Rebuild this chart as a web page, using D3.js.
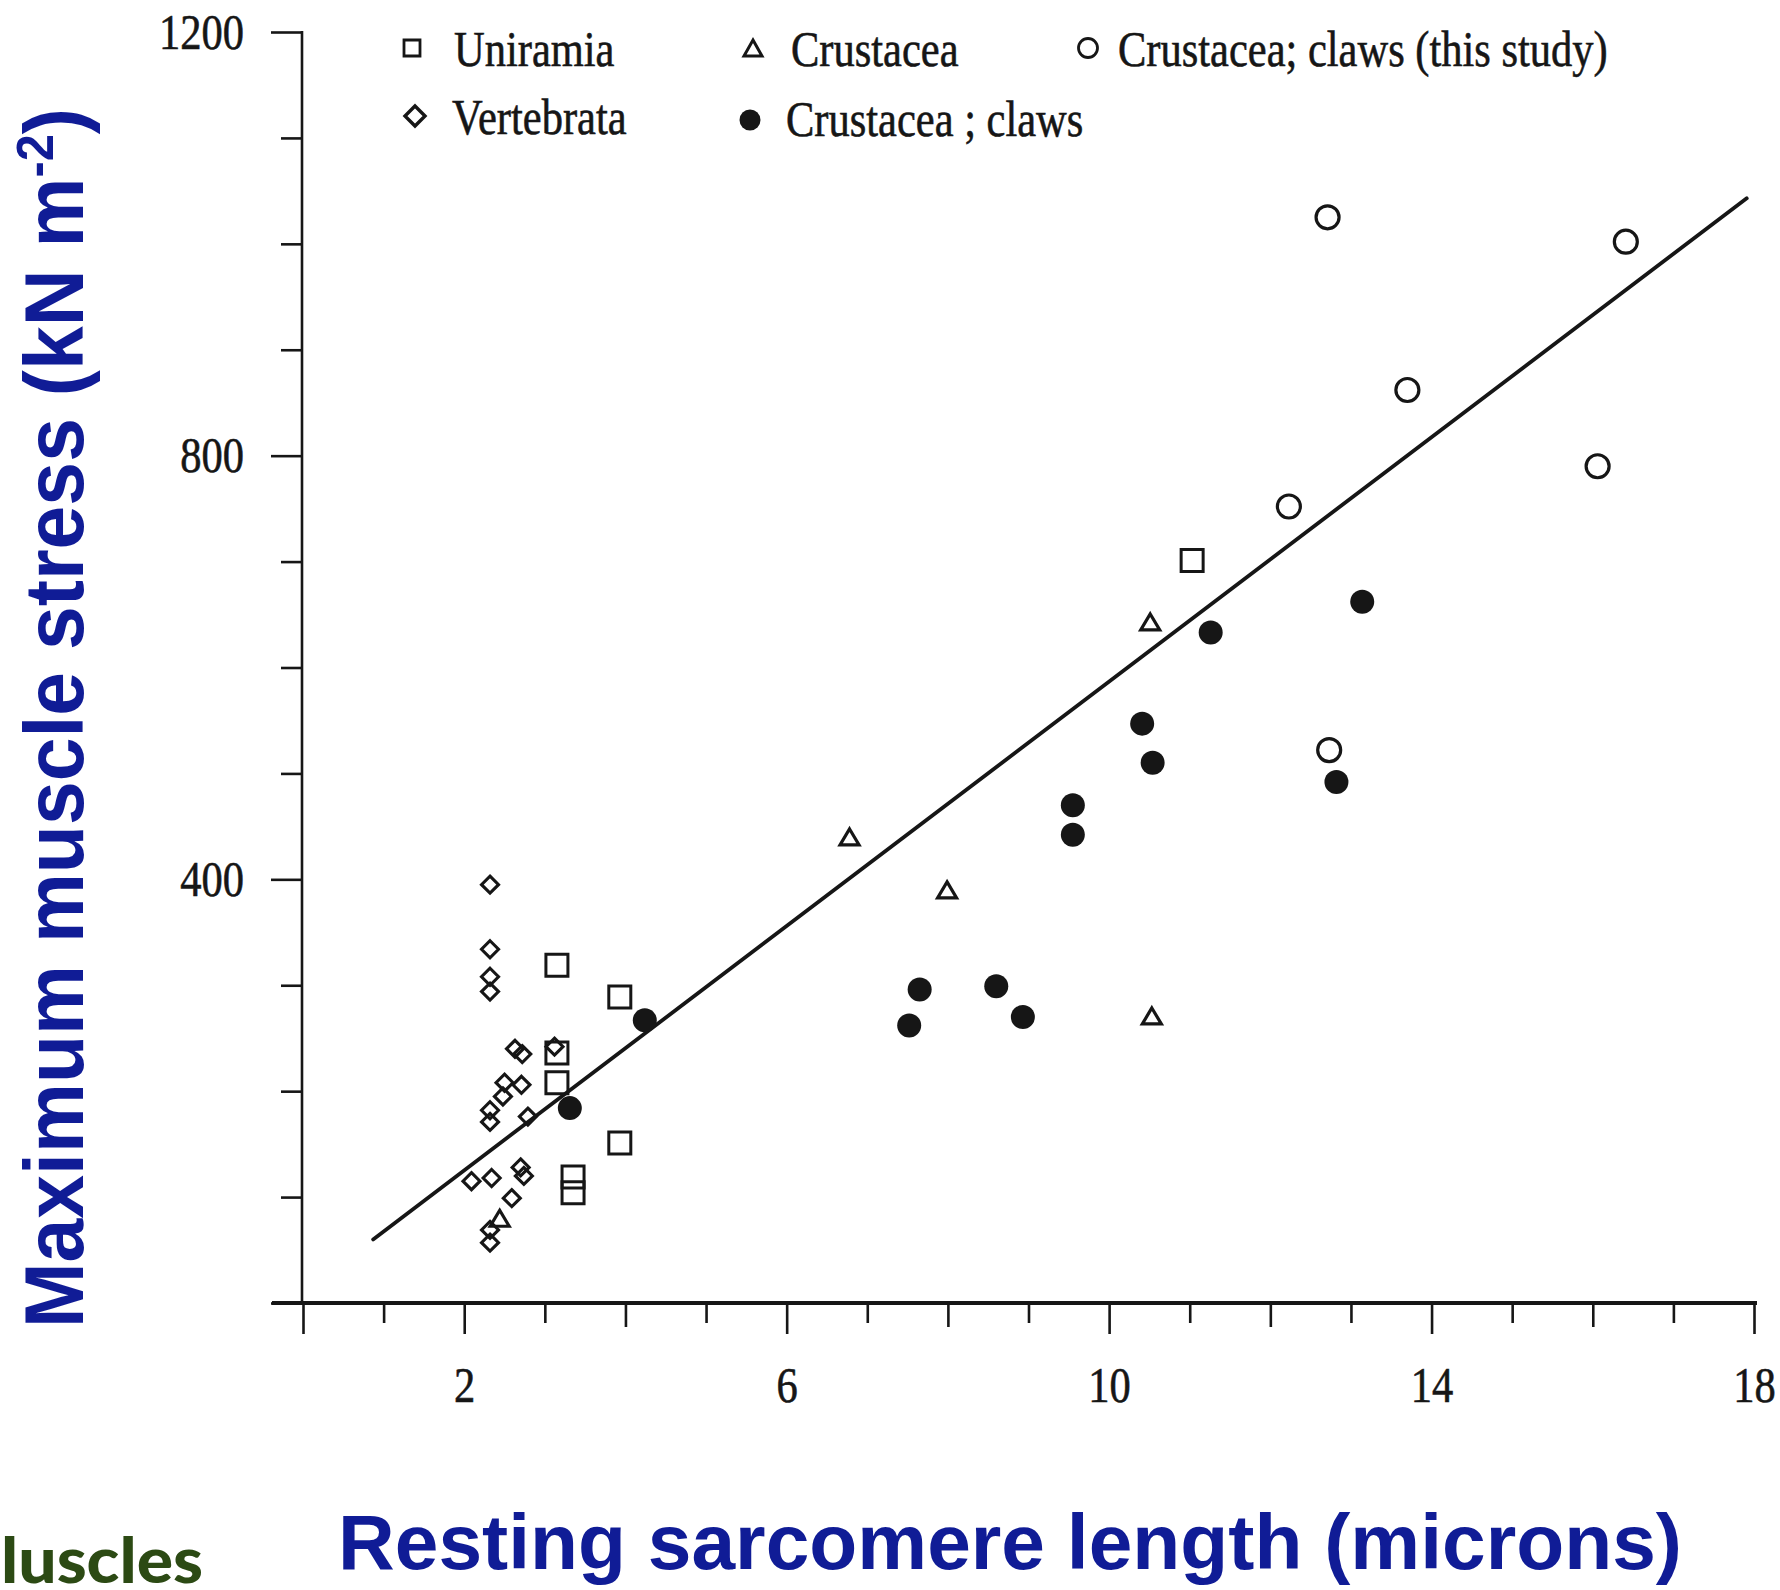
<!DOCTYPE html>
<html>
<head>
<meta charset="utf-8">
<script src="https://cdn.jsdelivr.net/npm/d3@7"></script>
<style>
  html, body { margin: 0; padding: 0; background: #fff; }
  svg { display: block; }
</style>
</head>
<body>
<svg id="chart" width="1780" height="1590"></svg>
<script>
// Resting sarcomere length vs maximum muscle stress
const uniramiaX = [3.15, 3.93, 3.15, 3.15, 3.93, 3.35, 3.35, 11.03];
const uniramiaY = [319, 289, 236, 208, 151, 119, 104, 701];

const vertebrataX = [2.32, 2.32, 2.32, 2.32, 2.63, 2.72, 3.12, 2.50, 2.71, 2.48, 2.32, 2.32, 2.79, 2.09, 2.34, 2.70, 2.74, 2.59, 2.32, 2.32];
const vertebrataY = [395, 334, 308, 294, 240, 235, 242, 208, 206, 195, 182, 171, 176, 115, 118, 128, 120, 99, 69, 57];

const crustaceaX = [2.44, 6.78, 7.99, 10.51, 10.53];
const crustaceaY = [80, 440, 390, 643, 271];

const clawsX = [3.31, 4.24, 7.52, 7.65, 8.60, 8.93, 9.55, 9.55, 10.41, 10.54, 11.26, 12.82, 13.14];
const clawsY = [184, 267, 262, 296, 299, 270, 470, 442, 547, 510, 633, 492, 662];

const studyX = [12.23, 12.71, 12.73, 13.70, 16.06, 16.41];
const studyY = [752, 1025, 522, 862, 790, 1002];

const fitX = [0.87, 17.91];
const fitY = [60, 1043];

const xTickValues = [0, 1, 2, 3, 4, 5, 6, 7, 8, 9, 10, 11, 12, 13, 14, 15, 16, 17, 18];
const xTickLabels = [2, 6, 10, 14, 18];
const xMidTicks = [4, 8, 12, 16];
const yTickValues = [0, 100, 200, 300, 400, 500, 600, 700, 800, 900, 1000, 1100, 1200];
const yTickLabels = [400, 800, 1200];

const legendNames = ["Uniramia", "Crustacea", "Crustacea; claws (this study)", "Vertebrata", "Crustacea ; claws"];

const ink = "#161616";
const serif = "'Liberation Serif', 'Times New Roman', serif";
const titleBlue = "#101c96";

const svg = d3.select('#chart');

const x = d3.scaleLinear().domain([0, 18]).range([303, 1754]);
const y = d3.scaleLinear().domain([0, 1200]).range([1303, 32]);

// marker shapes
const squarePath = s => `M${-s / 2},${-s / 2}h${s}v${s}h${-s}Z`;
const diamondPath = (w, h) => `M0,${-h / 2}L${w / 2},0L0,${h / 2}L${-w / 2},0Z`;
const trianglePath = (w, h) => `M0,${-h / 2}L${w / 2},${h / 2}L${-w / 2},${h / 2}Z`;

// serif text looks a bit heavy in the scan
function serifStyle(sel) {
    sel.attr("font-family", serif)
        .attr("font-size", 50)
        .attr("fill", ink)
        .attr("stroke", ink)
        .attr("stroke-width", 0.6);
}

// ---- axes ----
const xAxis = d3.axisBottom(x)
    .tickValues(xTickValues)
    .tickSizeOuter(0)
    .tickFormat(d => xTickLabels.includes(d) ? d : "");

const xg = svg.append("g")
    .attr("transform", `translate(0,${y(0)})`)
    .call(xAxis);
xg.select(".domain").remove();
xg.selectAll(".tick line")
    .attr("stroke", ink)
    .attr("stroke-width", 2.6)
    .attr("y2", d => (d === 0 || xTickLabels.includes(d)) ? 31 : (xMidTicks.includes(d) ? 24 : 20));
xg.selectAll(".tick text")
    .attr("y", 0).attr("dy", 0)
    .attr("transform", "translate(0,99) scale(0.85,1)")
    .call(serifStyle);

const yAxis = d3.axisLeft(y)
    .tickValues(yTickValues)
    .tickSizeOuter(0)
    .tickFormat(d => yTickLabels.includes(d) ? d : "");

const yg = svg.append("g")
    .attr("transform", `translate(${x(0) - 1},0)`)
    .call(yAxis);
yg.select(".domain").remove();
yg.selectAll(".tick line")
    .attr("stroke", ink)
    .attr("stroke-width", 2.6)
    .attr("x2", d => (d === 0 || yTickLabels.includes(d)) ? -31 : -21);
yg.selectAll(".tick text")
    .attr("x", 0).attr("dy", "0.32em")
    .attr("transform", "translate(-58,0) scale(0.85,1)")
    .call(serifStyle);

// axis lines
svg.append("line")
    .attr("x1", x(0) - 31).attr("x2", x(18) + 3)
    .attr("y1", y(0)).attr("y2", y(0))
    .attr("stroke", ink).attr("stroke-width", 3.8);
svg.append("line")
    .attr("x1", x(0) - 1).attr("x2", x(0) - 1)
    .attr("y1", y(1200) - 1).attr("y2", y(0))
    .attr("stroke", ink).attr("stroke-width", 2.6);

// ---- fitted line ----
svg.append("line")
    .attr("x1", x(fitX[0])).attr("y1", y(fitY[0]))
    .attr("x2", x(fitX[1])).attr("y2", y(fitY[1]))
    .attr("stroke", ink)
    .attr("stroke-width", 3.8)
    .attr("stroke-linecap", "round");

// ---- points ----
const pts = (xs, ys) => xs.map((v, i) => ({ x: v, y: ys[i] }));
const markers = svg.append("g").attr("class", "markers");

markers.selectAll(".vert")
    .data(pts(vertebrataX, vertebrataY))
    .enter().append("path")
    .attr("class", "vert")
    .attr("d", diamondPath(17, 17))
    .attr("transform", d => `translate(${x(d.x)},${y(d.y)})`)
    .attr("fill", "none")
    .attr("stroke", ink).attr("stroke-width", 3.1);

markers.selectAll(".uni")
    .data(pts(uniramiaX, uniramiaY))
    .enter().append("path")
    .attr("class", "uni")
    .attr("d", squarePath(22))
    .attr("transform", d => `translate(${x(d.x)},${y(d.y)})`)
    .attr("fill", "none")
    .attr("stroke", ink).attr("stroke-width", 3);

markers.selectAll(".crus")
    .data(pts(crustaceaX, crustaceaY))
    .enter().append("path")
    .attr("class", "crus")
    .attr("d", trianglePath(19, 16))
    .attr("transform", d => `translate(${x(d.x)},${y(d.y)})`)
    .attr("fill", "none")
    .attr("stroke", ink).attr("stroke-width", 3.2);

markers.selectAll(".claw")
    .data(pts(clawsX, clawsY))
    .enter().append("circle")
    .attr("class", "claw")
    .attr("cx", d => x(d.x)).attr("cy", d => y(d.y))
    .attr("r", 12)
    .attr("fill", ink);

markers.selectAll(".study")
    .data(pts(studyX, studyY))
    .enter().append("circle")
    .attr("class", "study")
    .attr("cx", d => x(d.x)).attr("cy", d => y(d.y))
    .attr("r", 11.5)
    .attr("fill", "none")
    .attr("stroke", ink).attr("stroke-width", 3.2);

// ---- legend ----
const legend = svg.append("g").attr("class", "legend");
const legendItems = [
    { name: legendNames[0], mx: 412, my: 48, tx: 454, ty: 66, kind: "square" },
    { name: legendNames[1], mx: 753, my: 48, tx: 791, ty: 66, kind: "triangle" },
    { name: legendNames[2], mx: 1088, my: 48, tx: 1118, ty: 66, kind: "open" },
    { name: legendNames[3], mx: 415, my: 116, tx: 452, ty: 134, kind: "diamond" },
    { name: legendNames[4], mx: 750, my: 120, tx: 786, ty: 136, kind: "filled" }
];
legendItems.forEach(it => {
    const g = legend.append("g").attr("transform", `translate(${it.mx},${it.my})`);
    if (it.kind === "square") {
        g.append("path").attr("d", squarePath(16)).attr("fill", "none").attr("stroke", ink).attr("stroke-width", 2.8);
    } else if (it.kind === "triangle") {
        g.append("path").attr("d", trianglePath(18, 16)).attr("fill", "none").attr("stroke", ink).attr("stroke-width", 3);
    } else if (it.kind === "open") {
        g.append("circle").attr("r", 9.5).attr("fill", "none").attr("stroke", ink).attr("stroke-width", 2.8);
    } else if (it.kind === "diamond") {
        g.append("path").attr("d", diamondPath(20, 20)).attr("fill", "none").attr("stroke", ink).attr("stroke-width", 3.4);
    } else {
        g.append("circle").attr("r", 10.5).attr("fill", ink);
    }
    legend.append("text")
        .attr("transform", `translate(${it.tx},${it.ty}) scale(0.85,1)`)
        .call(serifStyle)
        .text(it.name);
});

// ---- titles ----
svg.append("text")
    .attr("x", 1010).attr("y", 1569)
    .attr("text-anchor", "middle")
    .attr("font-family", "'Liberation Sans', Arial, sans-serif")
    .attr("font-weight", "bold")
    .attr("font-size", 77)
    .attr("fill", titleBlue)
    .attr("textLength", 1344)
    .attr("lengthAdjust", "spacingAndGlyphs")
    .text("Resting sarcomere length (microns)");

const yTitle = svg.append("text")
    .attr("transform", "translate(83,718) rotate(-90)")
    .attr("text-anchor", "middle")
    .attr("font-family", "'Liberation Sans', Arial, sans-serif")
    .attr("font-weight", "bold")
    .attr("font-size", 84)
    .attr("fill", titleBlue)
    .attr("textLength", 1220)
    .attr("lengthAdjust", "spacingAndGlyphs");
yTitle.append("tspan").text("Maximum muscle stress (kN m");
yTitle.append("tspan").attr("font-size", 52).attr("dy", -30).text("-2");
yTitle.append("tspan").attr("dy", 30).text(")");

svg.append("text")
    .attr("x", 1).attr("y", 1583)
    .attr("font-family", "Lato, 'Open Sans', sans-serif")
    .attr("font-weight", 900)
    .attr("font-size", 62)
    .attr("fill", "#2c4a14")
    .attr("textLength", 202)
    .attr("lengthAdjust", "spacingAndGlyphs")
    .text("luscles");
</script>
</body>
</html>
